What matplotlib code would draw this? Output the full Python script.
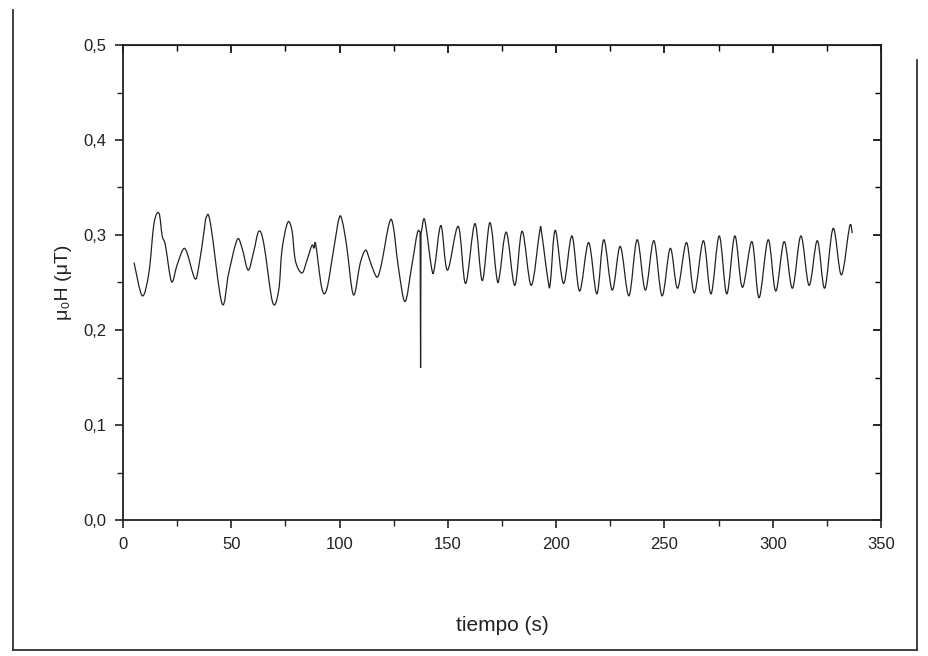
import matplotlib
matplotlib.use("Agg")
import matplotlib.pyplot as plt
from matplotlib.ticker import MultipleLocator, FuncFormatter
from matplotlib.lines import Line2D
from matplotlib.path import Path
from matplotlib.patches import PathPatch
import numpy as np

plt.rcParams['font.family'] = ['Liberation Sans', 'DejaVu Sans']

# time (s) and field (uT)
tiempo = [5.1, 8.9, 12.0, 14.3, 16.6, 18.1, 19.6, 22.4, 24.9, 27.8, 29.6, 33.2, 35.0, 37.3,
          38.5, 40.4, 45.7, 48.8, 52.7, 55.0, 57.8, 60.4, 62.7, 65.0, 69.1, 71.9, 73.4,
          76.0, 78.0, 79.6, 82.6, 84.9, 87.2, 88.2, 89.0, 91.8, 94.1, 97.2, 99.8, 101.3,
          103.3, 106.4, 109.5, 112.0, 114.0, 116.1, 117.6, 119.4, 123.0, 124.8, 127.1,
          130.2, 133.3, 135.9, 137.2, 137.4, 137.6, 139.3, 142.5, 143.8, 146.8, 149.8,
          154.8, 158.2, 162.5, 165.9, 169.4, 172.5, 173.8, 177.0, 180.9, 184.3, 188.5,
          192.4, 193.3, 196.2, 197.3, 199.6, 203.4, 207.3, 210.8, 215.0, 218.8, 222.0,
          225.9, 229.6, 233.6, 237.4, 241.2, 245.1, 248.9, 252.7, 256.1, 260.2, 263.8,
          268.0, 271.5, 275.3, 278.8, 282.5, 286.0, 290.4, 293.7, 297.9, 301.4, 305.3,
          309.1, 313.0, 316.8, 320.6, 324.0, 327.9, 331.7, 335.5, 336.7]
campo = [0.271, 0.236, 0.261, 0.312, 0.323, 0.299, 0.289, 0.251, 0.268, 0.285, 0.281, 0.254,
         0.267, 0.302, 0.319, 0.312, 0.228, 0.260, 0.295, 0.286, 0.263, 0.283, 0.304, 0.291,
         0.229, 0.242, 0.284, 0.313, 0.305, 0.273, 0.260, 0.273, 0.289, 0.286, 0.290, 0.244,
         0.243, 0.284, 0.318, 0.314, 0.288, 0.237, 0.270, 0.284, 0.273, 0.260, 0.256, 0.270,
         0.313, 0.309, 0.267, 0.230, 0.267, 0.302, 0.303, 0.160, 0.303, 0.316, 0.265, 0.265,
         0.310, 0.263, 0.309, 0.249, 0.312, 0.252, 0.313, 0.256, 0.256, 0.303, 0.247, 0.304,
         0.247, 0.304, 0.302, 0.253, 0.249, 0.305, 0.249, 0.299, 0.241, 0.292, 0.238, 0.295,
         0.242, 0.288, 0.236, 0.295, 0.242, 0.294, 0.236, 0.286, 0.244, 0.292, 0.239, 0.294,
         0.238, 0.299, 0.238, 0.299, 0.245, 0.293, 0.234, 0.295, 0.241, 0.293, 0.244, 0.299,
         0.247, 0.294, 0.244, 0.307, 0.258, 0.309, 0.302]

x_ticks = [0, 50, 100, 150, 200, 250, 300, 350]
y_ticks = [0.0, 0.1, 0.2, 0.3, 0.4, 0.5]

fig = plt.figure(figsize=(9.29, 6.56), dpi=100)
ax = fig.add_axes([123/929, 1-520/656, (881-123)/929, (520-45)/656])

# smooth (Catmull-Rom style) Bezier path through the read points; spike drawn straight
t = np.asarray(tiempo, dtype=float)
v = np.asarray(campo, dtype=float)
spike = int(np.argmin(v))
n = len(t)
verts = [(t[0], v[0])]
codes = [Path.MOVETO]
for i in range(n - 1):
    if i in (spike - 1, spike):
        c1 = (t[i], v[i])
        c2 = (t[i + 1], v[i + 1])
    else:
        i0 = max(i - 1, 0)
        i2 = min(i + 2, n - 1)
        if i == spike + 1:
            m0 = (t[i + 1] - t[i], 0.0)
        else:
            m0 = ((t[i + 1] - t[i0]) / 2, (v[i + 1] - v[i0]) / 2)
        if i + 1 == spike - 1:
            m1 = (t[i + 1] - t[i], 0.0)
        else:
            m1 = ((t[i2] - t[i]) / 2, (v[i2] - v[i]) / 2)
        c1 = (t[i] + m0[0] / 3, v[i] + m0[1] / 3)
        c2 = (t[i + 1] - m1[0] / 3, v[i + 1] - m1[1] / 3)
    verts += [c1, c2, (t[i + 1], v[i + 1])]
    codes += [Path.CURVE4, Path.CURVE4, Path.CURVE4]
ax.add_patch(PathPatch(Path(verts, codes), facecolor='none', edgecolor='#222222', lw=0.9))

ax.set_xlim(0, 350)
ax.set_ylim(0, 0.5)
ax.set_xticks(x_ticks)
ax.set_yticks(y_ticks)
ax.xaxis.set_minor_locator(MultipleLocator(25))
ax.yaxis.set_minor_locator(MultipleLocator(0.05))
ax.yaxis.set_major_formatter(FuncFormatter(lambda val, p: f"{val:.1f}".replace('.', ',')))

for sp in ax.spines.values():
    sp.set_linewidth(1.3)
    sp.set_color('#222222')

ax.tick_params(axis='both', which='major', direction='out', length=6, width=1.2,
               labelsize=12, colors='#222222', pad=6)
ax.tick_params(axis='both', which='minor', direction='out', length=4, width=1.0,
               colors='#222222')

# mirrored ticks pointing inward on top and right
secx = ax.secondary_xaxis('top')
secx.set_xticks(x_ticks)
secx.xaxis.set_minor_locator(MultipleLocator(25))
secx.tick_params(which='major', direction='in', length=6, width=1.2)
secx.tick_params(which='minor', direction='in', length=4, width=1.0)
secx.set_xticklabels([])
secy = ax.secondary_yaxis('right')
secy.set_yticks(y_ticks)
secy.yaxis.set_minor_locator(MultipleLocator(0.05))
secy.tick_params(which='major', direction='in', length=6, width=1.2)
secy.tick_params(which='minor', direction='in', length=4, width=1.0)
secy.set_yticklabels([])

ax.set_xlabel('tiempo (s)', fontsize=15, labelpad=46, color='#222222')
ax.set_ylabel('μ₀H (μT)', fontsize=14, labelpad=8, color='#222222')

# outer frame of the scanned figure
for xs, ys in [([13/929, 13/929], [1-10/656, 1-650/656]),
               ([13/929, 917/929], [1-650/656, 1-650/656]),
               ([917/929, 917/929], [1-650/656, 1-60/656])]:
    fig.add_artist(Line2D(xs, ys, transform=fig.transFigure, color='#333333', lw=1.3))

fig.savefig('out.png', dpi=100)
